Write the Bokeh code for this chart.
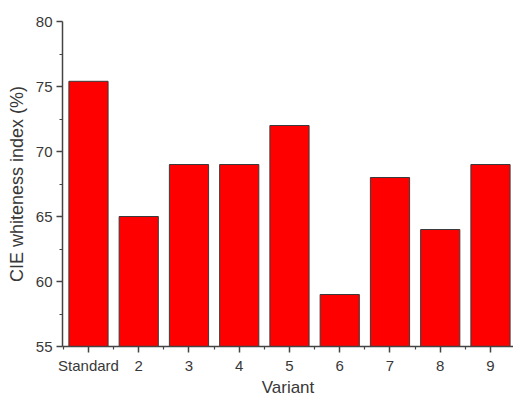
from bokeh.plotting import figure
from bokeh.models import ColumnDataSource, FixedTicker, Range1d
from bokeh.embed import file_html
from bokeh.resources import INLINE

variants = ["Standard", "2", "3", "4", "5", "6", "7", "8", "9"]
whiteness = [75.4, 65.0, 69.0, 69.0, 72.0, 59.0, 68.0, 64.0, 69.0]
positions = list(range(1, len(variants) + 1))
y_ticks = [55, 60, 65, 70, 75, 80]

src = ColumnDataSource(dict(x=positions, top=whiteness))

p = figure(width=513, height=399, output_backend="svg", toolbar_location=None,
           x_range=Range1d(0.483, 9.458), y_range=Range1d(55, 80),
           min_border_left=62, min_border_top=21, min_border_bottom=53,
           min_border_right=0)
p.outline_line_color = None
p.grid.visible = False

p.vbar(x="x", top="top", bottom=55, width=0.78, source=src,
       fill_color="#FF0000", line_color="#3a3a3a", line_width=1)

font = "Liberation Sans"
tc = "#383838"

xt = FixedTicker(ticks=positions, minor_ticks=[i + 0.5 for i in range(0, 10)])
p.xaxis.ticker = xt
p.xaxis.major_label_overrides = {1: "Standard"}
p.xaxis.axis_label = "Variant"

p.yaxis.ticker = FixedTicker(ticks=y_ticks, minor_ticks=[57.5, 62.5, 67.5, 72.5, 77.5])
p.yaxis.axis_label = "CIE whiteness index (%)"

for ax in (p.xaxis[0], p.yaxis[0]):
    ax.axis_line_color = "#444444"
    ax.axis_line_width = 1.5
    ax.major_tick_line_color = "#444444"
    ax.minor_tick_line_color = "#444444"
    ax.major_tick_line_width = 1.5
    ax.minor_tick_line_width = 1.2
    ax.major_tick_in = 0
    ax.major_tick_out = 6
    ax.minor_tick_in = 0
    ax.minor_tick_out = 3
    ax.major_label_text_font = font
    ax.major_label_text_font_size = "15px"
    ax.major_label_text_color = tc
    ax.axis_label_text_font = font
    ax.axis_label_text_font_style = "normal"
    ax.axis_label_text_color = tc

p.xaxis.axis_label_text_font_size = "17px"
p.yaxis.axis_label_text_font_size = "18px"
p.xaxis.major_label_standoff = 4
p.xaxis.axis_label_standoff = 1
p.yaxis.major_label_standoff = 4
p.yaxis.axis_label_standoff = 6

open("out.html", "w").write(file_html(p, INLINE))
